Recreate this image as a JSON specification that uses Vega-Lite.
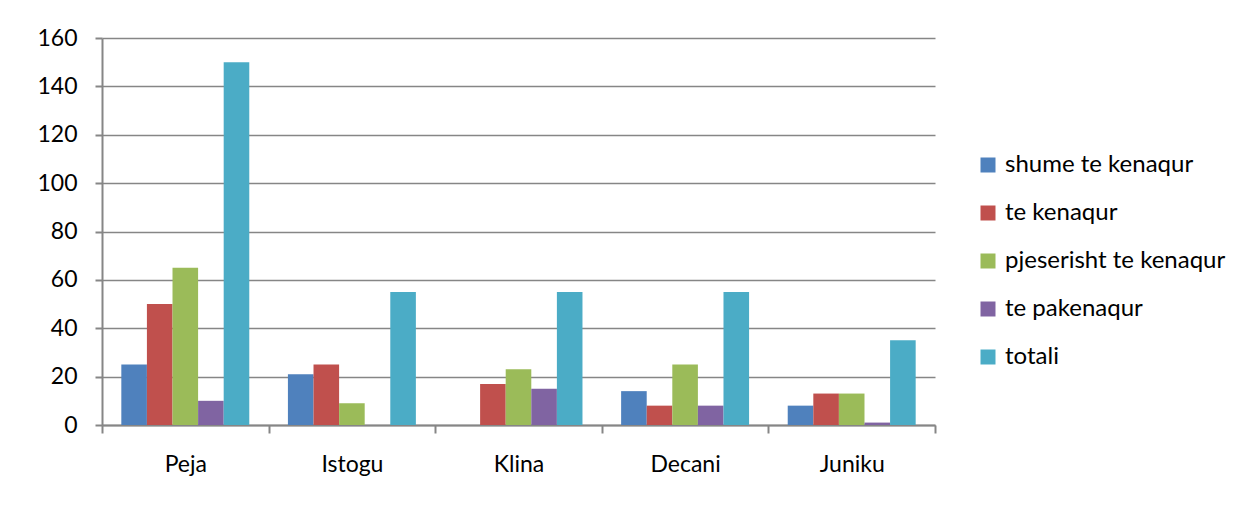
{
  "$schema": "https://vega.github.io/schema/vega-lite/v6.json",
  "width": 833,
  "height": 387,
  "autosize": {"type": "none"},
  "padding": {"left": 102, "top": 38, "right": 320, "bottom": 81},
  "background": "white",
  "data": {
    "values": [
      {"qyteti": "Peja", "kategoria": "shume te kenaqur", "vlera": 25},
      {"qyteti": "Peja", "kategoria": "te kenaqur", "vlera": 50},
      {"qyteti": "Peja", "kategoria": "pjeserisht te kenaqur", "vlera": 65},
      {"qyteti": "Peja", "kategoria": "te pakenaqur", "vlera": 10},
      {"qyteti": "Peja", "kategoria": "totali", "vlera": 150},
      {"qyteti": "Istogu", "kategoria": "shume te kenaqur", "vlera": 21},
      {"qyteti": "Istogu", "kategoria": "te kenaqur", "vlera": 25},
      {"qyteti": "Istogu", "kategoria": "pjeserisht te kenaqur", "vlera": 9},
      {"qyteti": "Istogu", "kategoria": "te pakenaqur", "vlera": 0},
      {"qyteti": "Istogu", "kategoria": "totali", "vlera": 55},
      {"qyteti": "Klina", "kategoria": "shume te kenaqur", "vlera": 0},
      {"qyteti": "Klina", "kategoria": "te kenaqur", "vlera": 17},
      {"qyteti": "Klina", "kategoria": "pjeserisht te kenaqur", "vlera": 23},
      {"qyteti": "Klina", "kategoria": "te pakenaqur", "vlera": 15},
      {"qyteti": "Klina", "kategoria": "totali", "vlera": 55},
      {"qyteti": "Decani", "kategoria": "shume te kenaqur", "vlera": 14},
      {"qyteti": "Decani", "kategoria": "te kenaqur", "vlera": 8},
      {"qyteti": "Decani", "kategoria": "pjeserisht te kenaqur", "vlera": 25},
      {"qyteti": "Decani", "kategoria": "te pakenaqur", "vlera": 8},
      {"qyteti": "Decani", "kategoria": "totali", "vlera": 55},
      {"qyteti": "Juniku", "kategoria": "shume te kenaqur", "vlera": 8},
      {"qyteti": "Juniku", "kategoria": "te kenaqur", "vlera": 13},
      {"qyteti": "Juniku", "kategoria": "pjeserisht te kenaqur", "vlera": 13},
      {"qyteti": "Juniku", "kategoria": "te pakenaqur", "vlera": 1},
      {"qyteti": "Juniku", "kategoria": "totali", "vlera": 35}
    ]
  },
  "mark": {"type": "bar"},
  "encoding": {
    "x": {
      "field": "qyteti",
      "type": "nominal",
      "sort": ["Peja", "Istogu", "Klina", "Decani", "Juniku"],
      "scale": {"paddingInner": 0, "paddingOuter": 0},
      "axis": {
        "title": null,
        "labelAngle": 0,
        "tickBand": "extent",
        "tickSize": 8,
        "tickColor": "#868686",
        "tickWidth": 2,
        "domainColor": "#868686",
        "domainWidth": 2,
        "labelPadding": 20,
        "grid": false
      }
    },
    "xOffset": {
      "field": "kategoria",
      "type": "nominal",
      "sort": ["shume te kenaqur", "te kenaqur", "pjeserisht te kenaqur", "te pakenaqur", "totali"],
      "scale": {"paddingInner": 0, "paddingOuter": 0.755}
    },
    "y": {
      "field": "vlera",
      "type": "quantitative",
      "scale": {"domain": [0, 160], "nice": false},
      "axis": {
        "title": null,
        "values": [0, 20, 40, 60, 80, 100, 120, 140, 160],
        "tickSize": 7,
        "tickColor": "#868686",
        "tickWidth": 2,
        "domainColor": "#868686",
        "domainWidth": 2,
        "gridColor": "#868686",
        "gridWidth": 1.5,
        "labelPadding": 18
      }
    },
    "color": {
      "field": "kategoria",
      "type": "nominal",
      "sort": ["shume te kenaqur", "te kenaqur", "pjeserisht te kenaqur", "te pakenaqur", "totali"],
      "scale": {
        "domain": ["shume te kenaqur", "te kenaqur", "pjeserisht te kenaqur", "te pakenaqur", "totali"],
        "range": ["#4F81BD", "#C0504D", "#9BBB59", "#8064A2", "#4BACC6"]
      },
      "legend": {
        "title": null,
        "orient": "none",
        "legendX": 874,
        "legendY": 115,
        "symbolType": "square",
        "symbolSize": 225,
        "symbolStrokeWidth": 0,
        "labelOffset": 5,
        "rowPadding": 24
      }
    }
  },
  "config": {
    "font": "Lato",
    "view": {"stroke": null},
    "axis": {"labelFont": "Lato", "labelFontSize": 23, "labelColor": "#000000"},
    "legend": {"labelFont": "Lato", "labelFontSize": 24, "labelColor": "#000000", "labelLimit": 400}
  }
}
